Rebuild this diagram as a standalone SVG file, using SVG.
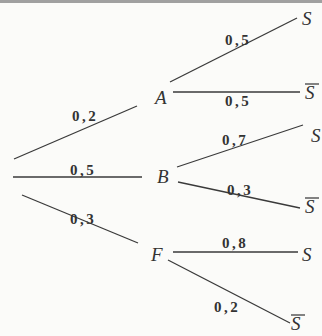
<svg xmlns="http://www.w3.org/2000/svg" width="322" height="336" viewBox="0 0 322 336">
<style>
.e{stroke:#3a3a3a;stroke-width:1.3;fill:none}
.p{font-family:"Liberation Serif",serif;font-weight:bold;font-size:15px;letter-spacing:2.5px;fill:#333}
.n{font-family:"Liberation Serif",serif;font-style:italic;font-size:19px;fill:#333}
.b{stroke:#333;stroke-width:1.2}
</style>
<rect x="0" y="0" width="322" height="336" fill="#fbfbf9"/>
<rect x="0" y="0" width="322" height="3" fill="#a0a0a0"/>
<g id="connectors">
<line class="e" x1="14" y1="159" x2="137" y2="106"/>
<line class="e" x1="13" y1="177" x2="142" y2="177"/>
<line class="e" x1="22" y1="195" x2="138" y2="243"/>
<line class="e" x1="170" y1="82" x2="297" y2="18"/>
<line class="e" x1="173" y1="92" x2="300" y2="92"/>
<line class="e" x1="177" y1="167" x2="303" y2="125"/>
<line class="e" x1="178" y1="182" x2="300" y2="208"/>
<line class="e" x1="173" y1="252" x2="298" y2="252"/>
<line class="e" x1="168" y1="260" x2="290" y2="323"/>
<text class="p" x="72" y="121">0,2</text>
<text class="p" x="70" y="175">0,5</text>
<text class="p" x="70" y="224">0,3</text>
<text class="p" x="225" y="45">0,5</text>
<text class="p" x="225" y="106">0,5</text>
<text class="p" x="222" y="145">0,7</text>
<text class="p" x="227" y="195">0,3</text>
<text class="p" x="222" y="248">0,8</text>
<text class="p" x="214" y="312">0,2</text>
</g>
<g id="A"><text class="n" x="155" y="104">A</text></g>
<g id="B"><text class="n" x="157" y="183">B</text></g>
<g id="F"><text class="n" x="151" y="261">F</text></g>
<g id="A-S"><text class="n" x="302" y="25">S</text></g>
<g id="A-Sbar"><text class="n" x="305" y="99">S</text><line class="b" x1="305" y1="84" x2="319" y2="84"/></g>
<g id="B-S"><text class="n" x="311" y="142">S</text></g>
<g id="B-Sbar"><text class="n" x="305" y="213">S</text><line class="b" x1="305" y1="198" x2="319" y2="198"/></g>
<g id="F-S"><text class="n" x="302" y="261">S</text></g>
<g id="F-Sbar"><text class="n" x="291" y="330">S</text><line class="b" x1="291" y1="315" x2="305" y2="315"/></g>
</svg>
